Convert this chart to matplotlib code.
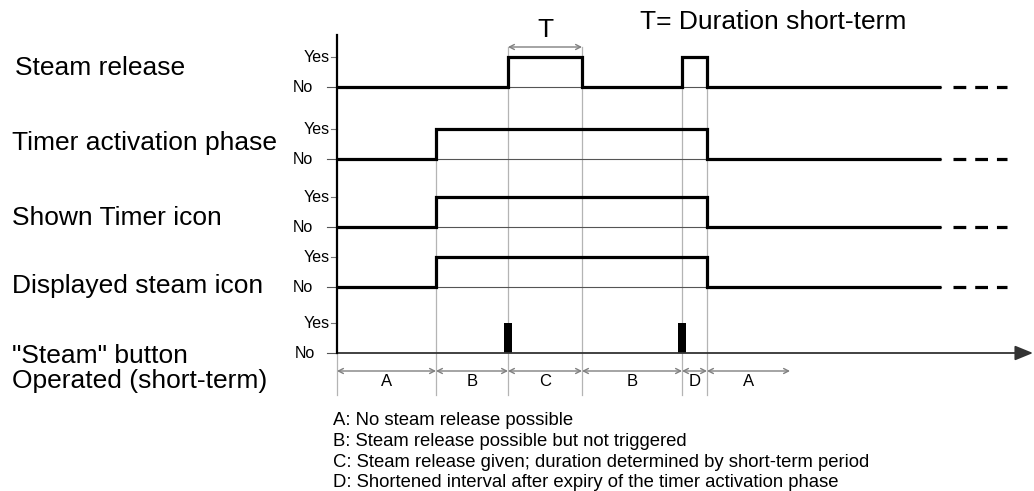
import matplotlib
matplotlib.use('Agg')
import matplotlib.pyplot as plt

plt.rcParams['font.family'] = ['Liberation Sans', 'DejaVu Sans']

# ---- data -------------------------------------------------------------
# Event times in arbitrary time units (0 = start of the time axis).
EDGES = [0.0, 9.9, 17.1, 24.5, 34.5, 37.0, 60.4]
STEAM_RELEASE = [0, 0, 1, 0, 1, 0]
TIMER_PHASE = [0, 1, 1, 1, 1, 0]
TIMER_ICON = [0, 1, 1, 1, 1, 0]
STEAM_ICON = [0, 1, 1, 1, 1, 0]
SIGNALS = [STEAM_RELEASE, TIMER_PHASE, TIMER_ICON, STEAM_ICON]

BUTTON_PRESSES = [17.1, 34.5]
PRESS_WIDTH = 0.8

INTERVAL_EDGES = [0.0, 9.9, 17.1, 24.5, 34.5, 37.0, 45.3]
INTERVAL_NAMES = ['A', 'B', 'C', 'B', 'D', 'A']

ROW_LABELS = ['Steam release', 'Timer activation phase', 'Shown Timer icon',
              'Displayed steam icon', '"Steam" button',
              'Operated (short-term)']

LEGEND = ['A: No steam release possible',
          'B: Steam release possible but not triggered',
          'C: Steam release given; duration determined by short-term period',
          'D: Shortened interval after expiry of the timer activation phase']

# ---- layout -----------------------------------------------------------
X0 = 337.0      # pixel column of the time origin
SCALE = 10.0    # pixels per time unit
NO_Y = [87, 159, 227, 287, 353]     # "No" level of each row (px from top)
AMP = 30                             # height of the "Yes" level
LABEL_BASE = [75, 150, 225, 293, 363, 388]
LABEL_X = [15, 12, 12, 12, 12, 12]
T_ARROW_Y = 47
BOTTOM = 395
INTERVAL_Y = 371
LEGEND_BASE = [425, 446, 467, 487]

INK = '#000000'
GRID = '#b4b4b4'
GREY = '#808080'
THICK = 2.3


def tx(px):
    return (px - X0) / SCALE


fig = plt.figure(figsize=(10.34, 4.91), dpi=100)
ax = fig.add_axes([0, 0, 1, 1])
ax.set_xlim(tx(0), tx(1034))
ax.set_ylim(491, 0)
ax.axis('off')

t_end = EDGES[-1]

# Vertical guide lines at every event.
tops = {EDGES[1]: NO_Y[1] - AMP, EDGES[2]: T_ARROW_Y, EDGES[3]: T_ARROW_Y,
        EDGES[4]: NO_Y[0] - AMP, EDGES[5]: NO_Y[0] - AMP}
for t in EDGES[1:-1]:
    ax.plot([t, t], [tops[t], BOTTOM], color=GRID, lw=0.9, zorder=1)
ax.plot([0, 0], [NO_Y[-1], BOTTOM], color=GRID, lw=0.9, zorder=1)

# Left axis line.
ax.plot([0, 0], [35, NO_Y[-1]], color=INK, lw=1.6, zorder=4)

# Signal rows.
for i, vals in enumerate(SIGNALS):
    base = NO_Y[i]
    ys = [base - AMP * v for v in vals]
    ax.plot([tx(327), t_end], [base, base], color='#555555', lw=0.8, zorder=2)
    ax.plot([tx(331), 0], [base - AMP, base - AMP], color='#777777', lw=0.8,
            zorder=2)
    ax.step(EDGES, ys + [ys[-1]], where='post', color=INK, lw=THICK,
            solid_joinstyle='miter', solid_capstyle='butt', zorder=3)
    ax.plot([tx(953), tx(1007)], [base, base], color=INK, lw=THICK,
            dashes=(4.0, 2.8), dash_capstyle='butt', zorder=3)
    ax.text(tx(330), base - AMP, 'Yes', fontsize=11.5, ha='right',
            va='center')
    ax.text(tx(313), base, 'No', fontsize=11.5, ha='right', va='center')

# Button row: short presses on a time axis.
b = NO_Y[-1]
ax.plot([tx(327), 0], [b, b], color='#555555', lw=0.8, zorder=2)
ax.plot([tx(331), 0], [b - AMP, b - AMP], color='#777777', lw=0.8, zorder=2)
ax.bar(BUTTON_PRESSES, [AMP] * len(BUTTON_PRESSES), width=PRESS_WIDTH,
       bottom=[b - AMP] * len(BUTTON_PRESSES), color=INK, zorder=3)
ax.annotate('', xy=(tx(1033), b), xytext=(0, b),
            arrowprops=dict(arrowstyle='-|>,head_length=1.1,head_width=0.45',
                            color='#333333', lw=1.3, shrinkA=0, shrinkB=0),
            zorder=3)
ax.text(tx(330), b - AMP, 'Yes', fontsize=11.5, ha='right', va='center')
ax.text(tx(315), b, 'No', fontsize=11.5, ha='right', va='center')

# Row titles.
for lab, x, y in zip(ROW_LABELS, LABEL_X, LABEL_BASE):
    ax.text(tx(x), y, lab, fontsize=19, ha='left', va='baseline')

# Duration T of the steam release.
ax.annotate('', xy=(EDGES[3], T_ARROW_Y), xytext=(EDGES[2], T_ARROW_Y),
            arrowprops=dict(arrowstyle='<->,head_length=0.35,head_width=0.18',
                            color=GREY, lw=1.0, shrinkA=0, shrinkB=0))
ax.text((EDGES[2] + EDGES[3]) / 2, 30, 'T', fontsize=19, ha='center',
        va='center')
ax.text(tx(640), 22, 'T= Duration short-term', fontsize=19, ha='left',
        va='center')

# Interval arrows A/B/C/D.
for a, c, name in zip(INTERVAL_EDGES[:-1], INTERVAL_EDGES[1:], INTERVAL_NAMES):
    ax.annotate('', xy=(c, INTERVAL_Y), xytext=(a, INTERVAL_Y),
                arrowprops=dict(arrowstyle='<->,head_length=0.35,head_width=0.18',
                                color=GREY, lw=1.0, shrinkA=0, shrinkB=0))
    ax.text((a + c) / 2, 381, name, fontsize=12, ha='center', va='center')

# Interval legend.
for line, y in zip(LEGEND, LEGEND_BASE):
    ax.text(tx(333), y, line, fontsize=13.3, ha='left', va='baseline')

fig.savefig('out.png', dpi=100)
